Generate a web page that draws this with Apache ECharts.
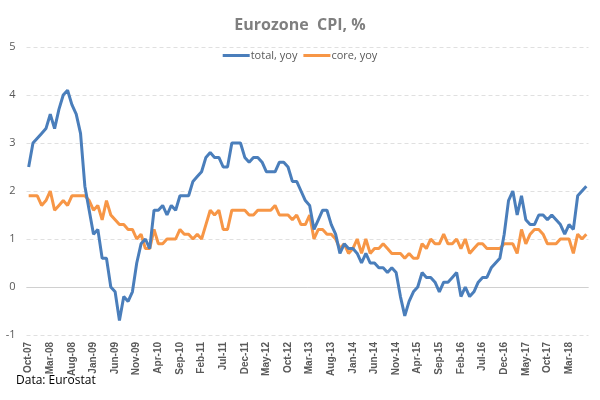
<!DOCTYPE html>
<html>
<head>
<meta charset="utf-8">
<script src="https://cdn.jsdelivr.net/npm/echarts@6/dist/echarts.min.js"></script>
<style>html,body{margin:0;padding:0;background:#fff;}#c{width:600px;height:400px;}</style>
</head>
<body>
<div id="c"></div>
<script>
const monthNames = ['Jan','Feb','Mar','Apr','May','Jun','Jul','Aug','Sep','Oct','Nov','Dec'];
const startYear = 2007, startMonth = 9, monthCount = 130; // Oct-07 .. Jul-18
const categories = [];
for (let i = 0; i < monthCount; i++) {
  const m = (startMonth + i) % 12;
  const y = startYear + Math.floor((startMonth + i) / 12);
  categories.push(monthNames[m] + '-' + String(y % 100).padStart(2, '0'));
}
const totalYoy = [
  2.5, 3.0, 3.1,
  3.2, 3.3, 3.6, 3.3, 3.7, 4.0, 4.1, 3.8, 3.6, 3.2, 2.1, 1.6,
  1.1, 1.2, 0.6, 0.6, 0.0, -0.1, -0.7, -0.2, -0.3, -0.1, 0.5, 0.9,
  1.0, 0.8, 1.6, 1.6, 1.7, 1.5, 1.7, 1.6, 1.9, 1.9, 1.9, 2.2,
  2.3, 2.4, 2.7, 2.8, 2.7, 2.7, 2.5, 2.5, 3.0, 3.0, 3.0, 2.7,
  2.6, 2.7, 2.7, 2.6, 2.4, 2.4, 2.4, 2.6, 2.6, 2.5, 2.2, 2.2,
  2.0, 1.8, 1.7, 1.2, 1.4, 1.6, 1.6, 1.3, 1.1, 0.7, 0.9, 0.8,
  0.8, 0.7, 0.5, 0.7, 0.5, 0.5, 0.4, 0.4, 0.3, 0.4, 0.3, -0.2,
  -0.6, -0.3, -0.1, 0.0, 0.3, 0.2, 0.2, 0.1, -0.1, 0.1, 0.1, 0.2,
  0.3, -0.2, 0.0, -0.2, -0.1, 0.1, 0.2, 0.2, 0.4, 0.5, 0.6, 1.1,
  1.8, 2.0, 1.5, 1.9, 1.4, 1.3, 1.3, 1.5, 1.5, 1.4, 1.5, 1.4,
  1.3, 1.1, 1.3, 1.2, 1.9, 2.0, 2.1
];
const coreYoy = [
  1.9, 1.9, 1.9,
  1.7, 1.8, 2.0, 1.6, 1.7, 1.8, 1.7, 1.9, 1.9, 1.9, 1.9, 1.8,
  1.6, 1.7, 1.4, 1.8, 1.5, 1.4, 1.3, 1.3, 1.2, 1.2, 1.0, 1.1,
  0.8, 0.8, 1.2, 0.9, 0.9, 1.0, 1.0, 1.0, 1.2, 1.1, 1.1, 1.0,
  1.1, 1.0, 1.3, 1.6, 1.5, 1.6, 1.2, 1.2, 1.6, 1.6, 1.6, 1.6,
  1.5, 1.5, 1.6, 1.6, 1.6, 1.6, 1.7, 1.5, 1.5, 1.5, 1.4, 1.5,
  1.3, 1.3, 1.5, 1.0, 1.2, 1.2, 1.1, 1.1, 1.0, 0.8, 0.9, 0.7,
  0.8, 1.0, 0.7, 1.0, 0.7, 0.8, 0.8, 0.9, 0.8, 0.7, 0.7, 0.7,
  0.6, 0.7, 0.6, 0.6, 0.9, 0.8, 1.0, 0.9, 0.9, 1.1, 0.9, 0.9,
  1.0, 0.8, 1.0, 0.7, 0.8, 0.9, 0.9, 0.8, 0.8, 0.8, 0.8, 0.9,
  0.9, 0.9, 0.7, 1.2, 0.9, 1.1, 1.2, 1.2, 1.1, 0.9, 0.9, 0.9,
  1.0, 1.0, 1.0, 0.7, 1.1, 1.0, 1.1
];
const seriesNames = ['total, yoy', 'core, yoy'];
const titleText = 'Eurozone  CPI, %';
const sourceText = 'Data: Eurostat';

const chart = echarts.init(document.getElementById('c'), null, {renderer: 'canvas'});
chart.setOption({
  animation: false,
  backgroundColor: '#ffffff',
  title: {
    text: titleText, left: 'center', top: 12,
    textStyle: {fontFamily: 'Open Sans', fontWeight: 'bold', fontSize: 16, color: '#7f7f7f'}
  },
  legend: {
    data: seriesNames, top: 45, left: 'center',
    icon: 'rect', itemWidth: 27, itemHeight: 3, itemGap: 6,
    textStyle: {fontFamily: 'Open Sans', fontSize: 11, color: '#595959', padding: [0,0,0,-4]}
  },
  grid: {left: 26.5, right: 11.5, top: 47, bottom: 65, containLabel: false},
  xAxis: {
    type: 'category', data: categories, boundaryGap: true,
    axisLine: {show: false, onZero: false},
    axisTick: {show: false},
    axisLabel: {interval: 4, rotate: 90, margin: 7, fontFamily: 'Liberation Sans', fontWeight: 'bold', fontSize: 10, color: '#595959'},
    splitLine: {show: false}
  },
  yAxis: {
    type: 'value', min: -1, max: 5, interval: 1,
    axisLine: {show: false}, axisTick: {show: false},
    axisLabel: {margin: 11, fontFamily: 'Open Sans', fontSize: 11, color: '#595959'},
    splitLine: {lineStyle: {color: '#e0e0e0', type: [4, 3], width: 1}}
  },
  graphic: [{
    type: 'text', left: 16, top: 375,
    style: {text: sourceText, fontFamily: 'Open Sans', fontSize: 12, fill: '#000000'}
  }],
  series: [
    {
      name: seriesNames[0], type: 'line', data: totalYoy, symbol: 'none', z: 3,
      lineStyle: {color: '#4a7ebb', width: 3}, itemStyle: {color: '#4a7ebb'},
      markLine: {
        silent: true, symbol: 'none', label: {show: false},
        lineStyle: {color: '#d0d0d0', type: 'solid', width: 1},
        data: [{yAxis: 0}], z: 1
      }
    },
    {
      name: seriesNames[1], type: 'line', data: coreYoy, symbol: 'none', z: 2,
      lineStyle: {color: '#f79646', width: 3}, itemStyle: {color: '#f79646'}
    }
  ]
});
</script>
</body>
</html>
